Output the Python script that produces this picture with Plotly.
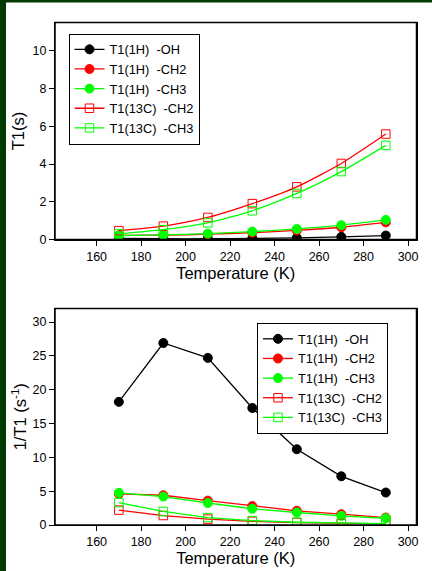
import plotly.graph_objects as go

W, H = 432, 571

temps = [170, 190, 210, 230, 250, 270, 290]
names = ["T1(1H)\u00a0\u00a0-OH", "T1(1H)\u00a0\u00a0-CH2", "T1(1H)\u00a0\u00a0-CH3",
         "T1(13C)\u00a0\u00a0-CH2", "T1(13C)\u00a0\u00a0-CH3"]

# Top panel: T1 (s)
t1_oh = [0.06, 0.04, 0.04, 0.06, 0.09, 0.14, 0.21]
t1_ch2 = [0.22, 0.23, 0.28, 0.36, 0.48, 0.65, 0.91]
t1_ch3 = [0.21, 0.24, 0.31, 0.42, 0.56, 0.76, 1.04]
t1c_ch2 = [0.47, 0.71, 1.17, 1.90, 2.79, 4.03, 5.59]
t1c_ch3 = [0.30, 0.52, 0.88, 1.52, 2.44, 3.60, 4.99]

# Bottom panel: 1/T1 (s^-1)
r_oh = [18.2, 26.9, 24.7, 17.3, 11.2, 7.2, 4.8]
r_ch2 = [4.6, 4.4, 3.6, 2.8, 2.1, 1.6, 1.1]
r_ch3 = [4.75, 4.2, 3.25, 2.4, 1.85, 1.35, 1.0]
rc_ch2 = [2.2, 1.4, 0.87, 0.54, 0.36, 0.25, 0.18]
rc_ch3 = [3.3, 2.0, 1.1, 0.65, 0.41, 0.28, 0.2]

xticks = [160, 180, 200, 220, 240, 260, 280, 300]
y1ticks = [0, 2, 4, 6, 8, 10]
y2ticks = [0, 5, 10, 15, 20, 25, 30]

colors = ["#000000", "#ff0000", "#00ff00", "#ff0000", "#00ff00"]
symbols = ["circle", "circle", "circle", "square-open", "square-open"]
msizes = [9, 9, 9, 8.5, 8.5]

fig = go.Figure()

top = [t1_oh, t1_ch2, t1_ch3, t1c_ch2, t1c_ch3]
bot = [r_oh, r_ch2, r_ch3, rc_ch2, rc_ch3]

for i in range(5):
    fig.add_trace(go.Scatter(
        x=temps, y=top[i], name=names[i], mode="lines+markers",
        line=dict(color=colors[i], width=1.3, shape="spline", smoothing=0.6),
        marker=dict(symbol=symbols[i], size=msizes[i], color=colors[i],
                    line=dict(color=colors[i], width=1)),
        xaxis="x", yaxis="y", legend="legend"))
for i in range(5):
    fig.add_trace(go.Scatter(
        x=temps, y=bot[i], name=names[i], mode="lines+markers",
        line=dict(color=colors[i], width=1.3),
        marker=dict(symbol=symbols[i], size=msizes[i], color=colors[i],
                    line=dict(color=colors[i], width=1)),
        xaxis="x2", yaxis="y2", legend="legend2"))

font = dict(family="Liberation Sans, Arial, sans-serif", color="#000000")

def px_x(p):
    return p / W

def px_y(p):
    return 1 - p / H

axis_common = dict(showline=True, linecolor="#000000", linewidth=1.3, mirror=True,
                   ticks="outside", ticklen=5, tickcolor="#000000", showgrid=False,
                   zeroline=False, automargin=False, tickfont=dict(size=12.5, **font))

green = "#013a01"
tfont = dict(size=16.5, **font)
lfont = dict(size=12.8, **font)

fig.update_layout(
    width=W, height=H,
    margin=dict(l=0, r=0, t=0, b=0, pad=0, autoexpand=False),
    paper_bgcolor="#ffffff",
    plot_bgcolor="#ffffff",
    font=dict(size=12, **font),
    xaxis=dict(domain=[px_x(55), px_x(416.5)], range=[141.3, 303.8], tickvals=xticks,
               anchor="y", title=dict(text="Temperature (K)", font=tfont, standoff=4),
               **axis_common),
    yaxis=dict(domain=[px_y(239.5), px_y(22.5)], range=[0, 11.5], tickvals=y1ticks,
               anchor="x", title=dict(text="T1(s)", font=tfont, standoff=3),
               **axis_common),
    xaxis2=dict(domain=[px_x(55), px_x(416.5)], range=[141.3, 303.8], tickvals=xticks,
                anchor="y2", title=dict(text="Temperature (K)", font=tfont, standoff=4),
                **axis_common),
    yaxis2=dict(domain=[px_y(525), px_y(308.5)], range=[0, 32], tickvals=y2ticks,
                anchor="x2", title=dict(text="1/T1 (s<sup>-1</sup>)", font=tfont, standoff=1),
                **axis_common),
    legend=dict(x=px_x(68.5), y=px_y(33.5), xanchor="left", yanchor="top",
                bgcolor="#ffffff", bordercolor="#000000", borderwidth=1,
                font=lfont, tracegroupgap=0, entrywidth=100, entrywidthmode="pixels"),
    legend2=dict(x=px_x(257), y=px_y(323), xanchor="left", yanchor="top",
                 bgcolor="#ffffff", bordercolor="#000000", borderwidth=1,
                 font=lfont, tracegroupgap=0, entrywidth=100, entrywidthmode="pixels"),
    shapes=[
        dict(type="rect", xref="paper", yref="paper", x0=0, x1=px_x(6),
             y0=0, y1=1, fillcolor=green, line=dict(width=0), layer="below"),
        dict(type="rect", xref="paper", yref="paper", x0=0, x1=1,
             y0=px_y(2.5), y1=1, fillcolor=green, line=dict(width=0), layer="below"),
        dict(type="rect", xref="x domain", yref="y domain", x0=0, x1=1, y0=0, y1=1,
             line=dict(color="#000000", width=1.5), layer="above"),
        dict(type="rect", xref="x2 domain", yref="y2 domain", x0=0, x1=1, y0=0, y1=1,
             line=dict(color="#000000", width=1.5), layer="above"),
    ],
)

fig.write_html("out.html")
